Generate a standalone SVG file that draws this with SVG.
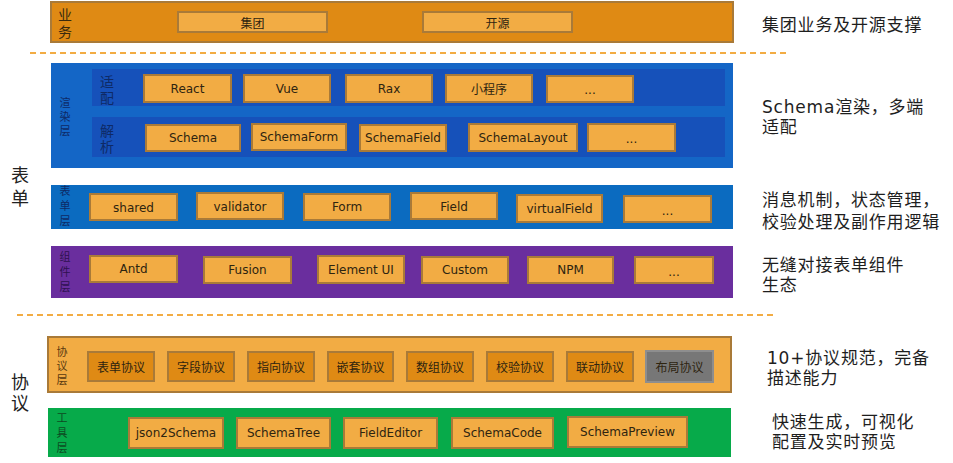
<svg xmlns="http://www.w3.org/2000/svg" width="953" height="463" viewBox="0 0 953 463">
<style>
  text { font-family: "DejaVu Sans", "Noto Sans CJK SC", sans-serif; dominant-baseline: central; }
  .bx { fill: #F2AC44; stroke: #A97A38; stroke-width: 2; }
  .pbx { fill: #DF8A14; stroke: #A97A38; stroke-width: 2; }
  .gbx { fill: #777777; stroke: #8E8E8E; stroke-width: 2; }
  .bt { font-size: 12px; fill: #2E2410; text-anchor: middle; }
  .ct { font-size: 12px; fill: #2E2410; text-anchor: middle; font-family: "Noto Sans CJK SC", sans-serif; }
  .v { writing-mode: vertical-rl; text-anchor: middle; font-family: "Noto Sans CJK SC", sans-serif; }
  .lbl { font-size: 11px; }
  .lbl2 { font-size: 14px; }
  .big { font-size: 18px; fill: #222; }
  .rt { font-size: 17px; fill: #1E1E1E; letter-spacing: 0.8px; font-family: "DejaVu Sans", "Noto Sans CJK SC", sans-serif; }
  .dash { stroke: #F2AC44; stroke-width: 2; stroke-dasharray: 6 4; fill: none; }
</style>

<g id="separators">
  <line class="dash" x1="30" y1="53" x2="787" y2="53"/>
  <line class="dash" x1="17" y1="315" x2="775" y2="315"/>
</g>

<g id="business-layer">
  <rect x="51" y="2" width="682" height="40" fill="#DF8A14" stroke="#A97A38" stroke-width="2"/>
  <text class="v lbl2" x="65" y="25" fill="#3A2A0E" letter-spacing="3">业务</text>
  <g id="biz-group"><rect class="bx" x="178" y="12" width="149" height="20"/><text class="ct" x="252.5" y="22">集团</text></g>
  <g id="biz-opensource"><rect class="bx" x="423" y="12" width="149" height="20"/><text class="ct" x="497.5" y="22">开源</text></g>
</g>

<g id="render-layer">
  <rect x="51" y="63" width="682" height="105" fill="#1466C6"/>
  <rect x="92" y="69" width="633" height="37" fill="#1651BA"/>
  <rect x="92" y="117" width="633" height="40" fill="#1651BA"/>
  <text class="v lbl" x="65" y="118" fill="#0E2A66" letter-spacing="3">渲染层</text>
  <text class="v lbl2" x="107" y="91" fill="#0E2A66" letter-spacing="2">适配</text>
  <text class="v lbl2" x="107" y="140" fill="#0E2A66" letter-spacing="2">解析</text>
  <g id="adapt-react"><rect class="bx" x="144" y="75" width="87" height="27"/><text class="bt" x="187.5" y="88.5">React</text></g>
  <g id="adapt-vue"><rect class="bx" x="244" y="75" width="86" height="27"/><text class="bt" x="287" y="88.5">Vue</text></g>
  <g id="adapt-rax"><rect class="bx" x="346" y="75" width="86" height="27"/><text class="bt" x="389" y="88.5">Rax</text></g>
  <g id="adapt-miniapp"><rect class="bx" x="446" y="75" width="86" height="27"/><text class="ct" x="489" y="88.5">小程序</text></g>
  <g id="adapt-more"><rect class="bx" x="547" y="76" width="86" height="26"/><text class="bt" x="590" y="90">...</text></g>
  <g id="parse-schema"><rect class="bx" x="146" y="125" width="94" height="26"/><text class="bt" x="193" y="138">Schema</text></g>
  <g id="parse-schemaform"><rect class="bx" x="252" y="124" width="94" height="26"/><text class="bt" x="299" y="137">SchemaForm</text></g>
  <g id="parse-schemafield"><rect class="bx" x="360" y="125" width="86" height="26"/><text class="bt" x="403" y="138">SchemaField</text></g>
  <g id="parse-schemalayout"><rect class="bx" x="469" y="124" width="108" height="27"/><text class="bt" x="523" y="137.5">SchemaLayout</text></g>
  <g id="parse-more"><rect class="bx" x="588" y="124" width="87" height="27"/><text class="bt" x="631.5" y="139">...</text></g>
</g>

<g id="form-layer">
  <rect x="51" y="185" width="682" height="44" fill="#0B6BC0"/>
  <text class="v lbl" x="65" y="208" fill="#0E2A66" letter-spacing="4">表单层</text>
  <g id="form-shared"><rect class="bx" x="90" y="194" width="87" height="26"/><text class="bt" x="133.5" y="207.5">shared</text></g>
  <g id="form-validator"><rect class="bx" x="197" y="193" width="86" height="26"/><text class="bt" x="240" y="206.5">validator</text></g>
  <g id="form-form"><rect class="bx" x="304" y="194" width="86" height="26"/><text class="bt" x="347" y="207">Form</text></g>
  <g id="form-field"><rect class="bx" x="411" y="193" width="86" height="26"/><text class="bt" x="454" y="206.5">Field</text></g>
  <g id="form-virtualfield"><rect class="bx" x="517" y="195" width="85" height="27"/><text class="bt" x="559.5" y="209">virtualField</text></g>
  <g id="form-more"><rect class="bx" x="624" y="196" width="87" height="26"/><text class="bt" x="667.5" y="211">...</text></g>
</g>

<g id="component-layer">
  <rect x="51" y="246" width="682" height="52" fill="#6A2E9E"/>
  <text class="v lbl" x="65" y="274" fill="#2E1150" letter-spacing="4">组件层</text>
  <g id="comp-antd"><rect class="bx" x="90" y="256" width="87" height="26"/><text class="bt" x="133.5" y="269">Antd</text></g>
  <g id="comp-fusion"><rect class="bx" x="204" y="257" width="87" height="26"/><text class="bt" x="247.5" y="270">Fusion</text></g>
  <g id="comp-elementui"><rect class="bx" x="318" y="256" width="86" height="27"/><text class="bt" x="361" y="269.5">Element UI</text></g>
  <g id="comp-custom"><rect class="bx" x="422" y="257" width="86" height="26"/><text class="bt" x="465" y="270">Custom</text></g>
  <g id="comp-npm"><rect class="bx" x="528" y="257" width="85" height="26"/><text class="bt" x="570.5" y="270">NPM</text></g>
  <g id="comp-more"><rect class="bx" x="635" y="257" width="78" height="26"/><text class="bt" x="674" y="272">...</text></g>
</g>

<g id="side-labels">
  <text class="v big" x="20" y="189" letter-spacing="5">表单</text>
  <text class="v big" x="20" y="394" letter-spacing="3">协议</text>
</g>

<g id="protocol-layer">
  <rect x="48" y="337" width="683" height="55" fill="#F2AC44" stroke="#A97A38" stroke-width="2"/>
  <text class="v lbl" x="62" y="367" fill="#5A3A10" letter-spacing="3">协议层</text>
  <g id="proto-form"><rect class="pbx" x="88" y="352" width="66" height="29"/><text class="ct" x="121" y="366.5">表单协议</text></g>
  <g id="proto-field"><rect class="pbx" x="168" y="352" width="66" height="29"/><text class="ct" x="201" y="366.5">字段协议</text></g>
  <g id="proto-pointer"><rect class="pbx" x="248" y="352" width="66" height="29"/><text class="ct" x="281" y="366.5">指向协议</text></g>
  <g id="proto-nested"><rect class="pbx" x="328" y="352" width="65" height="29"/><text class="ct" x="360.5" y="366.5">嵌套协议</text></g>
  <g id="proto-array"><rect class="pbx" x="407" y="352" width="66" height="29"/><text class="ct" x="440" y="366.5">数组协议</text></g>
  <g id="proto-validate"><rect class="pbx" x="487" y="352" width="66" height="29"/><text class="ct" x="520" y="366.5">校验协议</text></g>
  <g id="proto-linkage"><rect class="pbx" x="567" y="352" width="66" height="29"/><text class="ct" x="600" y="366.5">联动协议</text></g>
  <g id="proto-layout"><rect class="gbx" x="646" y="351" width="67" height="31"/><text class="ct" x="679.5" y="366.5">布局协议</text></g>
</g>

<g id="tool-layer">
  <rect x="48" y="408" width="683" height="49" fill="#07AA4A"/>
  <text class="v lbl" x="62" y="435" fill="#0E4A22" letter-spacing="4">工具层</text>
  <g id="tool-json2schema"><rect class="bx" x="129" y="418" width="94" height="30"/><text class="bt" x="176" y="433">json2Schema</text></g>
  <g id="tool-schematree"><rect class="bx" x="237" y="418" width="93" height="30"/><text class="bt" x="283.5" y="433">SchemaTree</text></g>
  <g id="tool-fieldeditor"><rect class="bx" x="344" y="418" width="93" height="30"/><text class="bt" x="390.5" y="433">FieldEditor</text></g>
  <g id="tool-schemacode"><rect class="bx" x="452" y="418" width="101" height="30"/><text class="bt" x="502.5" y="433">SchemaCode</text></g>
  <g id="tool-schemapreview"><rect class="bx" x="568" y="417" width="119" height="30"/><text class="bt" x="627.5" y="432">SchemaPreview</text></g>
</g>

<g id="descriptions">
  <text class="rt" x="762" y="25">集团业务及开源支撑</text>
  <text class="rt" x="762" y="107">Schema渲染，多端<tspan x="762" dy="20">适配</tspan></text>
  <text class="rt" x="762" y="200">消息机制，状态管理，<tspan x="762" dy="22">校验处理及副作用逻辑</tspan></text>
  <text class="rt" x="762" y="265">无缝对接表单组件<tspan x="762" dy="20">生态</tspan></text>
  <text class="rt" x="767" y="358">10+协议规范，完备<tspan x="767" dy="20">描述能力</tspan></text>
  <text class="rt" x="772" y="422">快速生成，可视化<tspan x="772" dy="20">配置及实时预览</tspan></text>
</g>
</svg>
